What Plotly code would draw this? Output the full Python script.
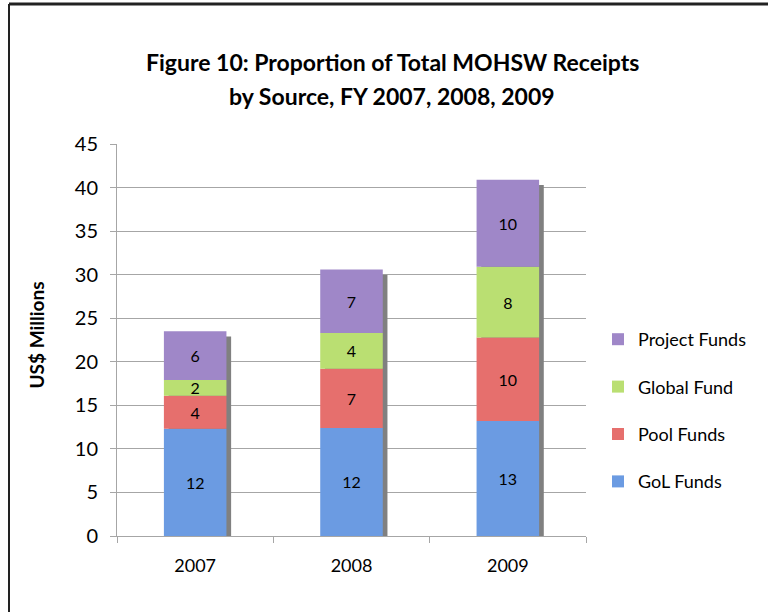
"""
Figure 10: MOHSW receipts by source, stacked bars
"""

import numpy as np
import plotly.graph_objects as go

# 데이터
years = ['2007', '2008', '2009']
series_names = ['GoL Funds', 'Pool Funds', 'Global Fund', 'Project Funds']
gol_funds = [12.3, 12.4, 13.2]
pool_funds = [3.8, 6.8, 9.6]
global_fund = [1.8, 4.1, 8.1]
project_funds = [5.6, 7.3, 10.0]
y_ticks = [0, 5, 10, 15, 20, 25, 30, 35, 40, 45]

# 색상
SERIES_COLORS = {
    'GoL Funds': '#6B9BE2',
    'Pool Funds': '#E66F6D',
    'Global Fund': '#BADF72',
    'Project Funds': '#9F87C8'
}
GRID = '#A6A6A6'
FONT = 'Lato, "Open Sans", sans-serif'

# plot area in pixels (768x612 page)
L, R, T, B = 117, 182, 144, 76
W, H = 768, 612
pw, ph = W - L - R, H - T - B


def px_x(x):
    return (x - L) / pw


def px_y(y):
    return (H - B - y) / ph


values = np.array([gol_funds, pool_funds, global_fund, project_funds])
bases = np.vstack([np.zeros(len(years)), np.cumsum(values, axis=0)[:-1]])
totals = values.sum(axis=0)

fig = go.Figure()

# 그림자
fig.add_trace(go.Bar(
    x=years, y=totals - 0.6, base=0,
    width=0.4, offset=-0.17,
    marker=dict(color='#808080', line=dict(width=0)),
    showlegend=False, hoverinfo='skip'
))

for i, name in enumerate(series_names):
    fig.add_trace(go.Bar(
        x=years, y=values[i], base=bases[i],
        name=name, legendgroup=name, legendrank=len(series_names) - i,
        width=0.4, offset=-0.2,
        marker=dict(color=SERIES_COLORS[name], line=dict(width=0)),
        text=[f"{v:.0f}" for v in values[i]],
        textposition='inside', insidetextanchor='middle', textangle=0,
        textfont=dict(size=16, color='black', family=FONT),
        hovertemplate='<b>%{x}</b><br>' + name + ': %{y}<extra></extra>'
    ))

fig.update_layout(
    width=W, height=H,
    barmode='overlay',
    plot_bgcolor='white', paper_bgcolor='white',
    font=dict(family=FONT, size=16, color='black'),
    margin=dict(l=L, r=R, t=T, b=B, autoexpand=False),
    uniformtext=dict(minsize=15, mode='show'),
    legend=dict(
        x=px_x(598), y=px_y(321), xanchor='left', yanchor='top',
        traceorder='grouped', tracegroupgap=21,
        font=dict(size=18, family=FONT), bgcolor='rgba(0,0,0,0)'
    ),
    showlegend=True
)

fig.update_xaxes(
    type='category', showgrid=False,
    showline=True, linecolor=GRID, linewidth=1,
    ticks='outside', tickson='boundaries', ticklen=6, tickcolor=GRID,
    tickfont=dict(size=18), ticklabelstandoff=13
)

fig.update_yaxes(
    range=[0, 45], tickvals=y_ticks,
    showgrid=True, gridcolor=GRID, gridwidth=1,
    showline=True, linecolor=GRID, linewidth=1,
    ticks='outside', ticklen=6, tickcolor=GRID,
    tickfont=dict(size=20), zeroline=False, ticklabelstandoff=8
)

# 제목
fig.add_annotation(text='<b>Figure 10: Proportion of Total MOHSW Receipts</b>',
                   xref='paper', yref='paper', x=px_x(392), y=px_y(46),
                   showarrow=False, font=dict(size=23, family=FONT))
fig.add_annotation(text='<b>by Source, FY 2007, 2008, 2009</b>',
                   xref='paper', yref='paper', x=px_x(392), y=px_y(80),
                   showarrow=False, font=dict(size=23, family=FONT))
fig.add_annotation(text='<b>US$ Millions</b>', textangle=-90,
                   xref='paper', yref='paper', x=px_x(22), y=px_y(335),
                   showarrow=False, font=dict(size=19, family=FONT))

# 테두리
fig.add_shape(type='line', xref='paper', yref='paper',
              x0=px_x(9), x1=px_x(768), y0=px_y(4), y1=px_y(4),
              line=dict(color='#222222', width=3))
fig.add_shape(type='line', xref='paper', yref='paper',
              x0=px_x(9), x1=px_x(9), y0=px_y(4), y1=px_y(612),
              line=dict(color='#222222', width=2))

fig.write_html("out.html", config={'displayModeBar': False},
               post_script="document.body.style.margin = '0';")
